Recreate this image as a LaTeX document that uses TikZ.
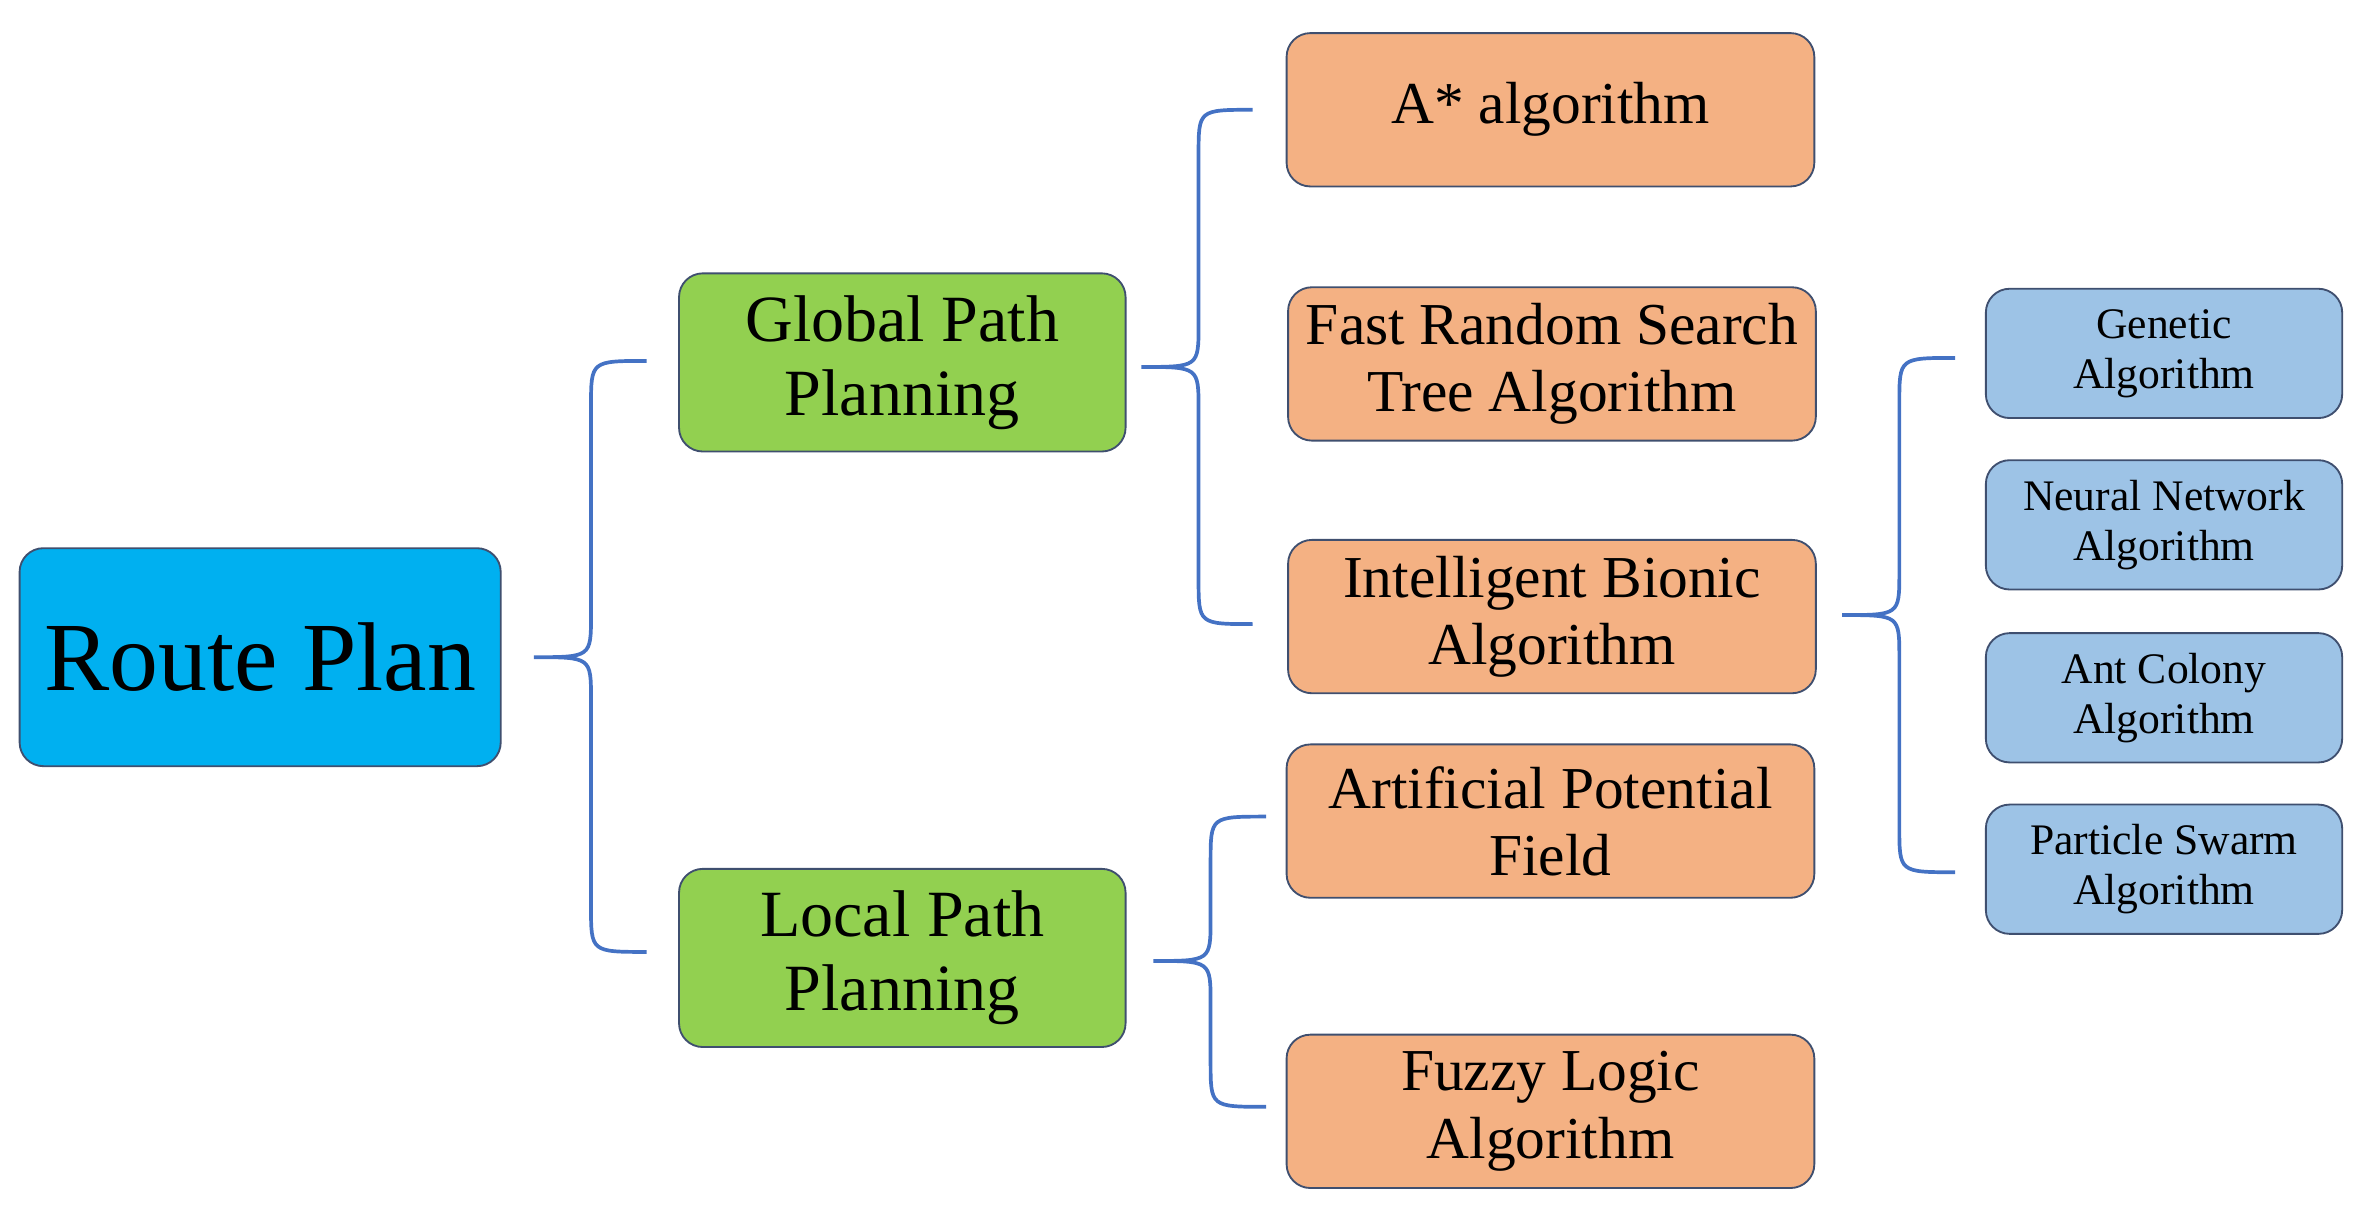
\documentclass[tikz,border=0pt]{standalone}
\usepackage{fontspec}
\setmainfont{Liberation Serif}
\usetikzlibrary{positioning,calc}
\definecolor{rootblue}{HTML}{00B0F0}
\definecolor{leafgreen}{HTML}{92D050}
\definecolor{algorange}{HTML}{F4B183}
\definecolor{subblue}{HTML}{9DC3E6}
\definecolor{bracecol}{HTML}{4472C4}
\definecolor{edgecol}{HTML}{3F4F6F}
\tikzset{
  box/.style={draw=edgecol, line width=0.7pt, rounded corners=9pt, align=center, inner sep=0pt},
  root/.style={box, fill=rootblue, minimum width=6.4cm, minimum height=2.9cm, font=\fontsize{37}{40}\selectfont},
  plan/.style={box, fill=leafgreen, minimum width=5.94cm, minimum height=2.37cm, font=\fontsize{25}{28}\selectfont},
  alg/.style={box, fill=algorange, minimum width=7.02cm, minimum height=2.04cm, font=\fontsize{22.5}{25.5}\selectfont},
  sub/.style={box, fill=subblue, minimum width=4.74cm, minimum height=1.72cm, font=\fontsize{16.5}{19}\selectfont},
  brace/.style={draw=bracecol, line width=1.4pt}
}
% #1 tip, #2 spine x, #3 top y, #4 bottom y, #5 end x
\newcommand\drawbrace[5]{
  \draw[brace] (#5,#3) .. controls (#2,#3) .. (#2,#3+30) -- (#2,#1-28)
    .. controls (#2,#1) .. (#2-38,#1) coordinate (tip)
    .. controls (#2,#1) .. (#2,#1+28) -- (#2,#4-30) .. controls (#2,#4) .. (#5,#4);
}
\begin{document}
\begin{tikzpicture}[x=0.02cm, y=-0.02cm]
  \useasboundingbox (0,0) rectangle (1568,815);
  \node[root] (route) at (173,437) {Route Plan};
  \node[plan] (global) at (600,241) {Global Path\\Planning};
  \node[plan] (local) at (600,637) {Local Path\\Planning};
  \node[alg] (astar) at (1031,73) {A* algorithm};
  \node[alg] (rrt) at (1032,242) {Fast Random Search\\Tree Algorithm};
  \node[alg] (bionic) at (1032,410) {Intelligent Bionic\\Algorithm};
  \node[alg] (apf) at (1031,546) {Artificial Potential\\Field};
  \node[alg] (fuzzy) at (1031,739) {Fuzzy Logic\\Algorithm};
  \node[sub] (genetic) at (1439,235) {Genetic\\Algorithm};
  \node[sub] (neural) at (1439,349) {Neural Network\\Algorithm};
  \node[sub] (ant) at (1439,464) {Ant Colony\\Algorithm};
  \node[sub] (pso) at (1439,578) {Particle Swarm\\Algorithm};
  % braces
  \drawbrace{437}{393}{240}{633}{430}
  \drawbrace{244}{797}{73}{415}{833}
  \drawbrace{639}{805}{543}{736}{842}
  \drawbrace{409}{1263}{238}{580}{1300}
\end{tikzpicture}
\end{document}
